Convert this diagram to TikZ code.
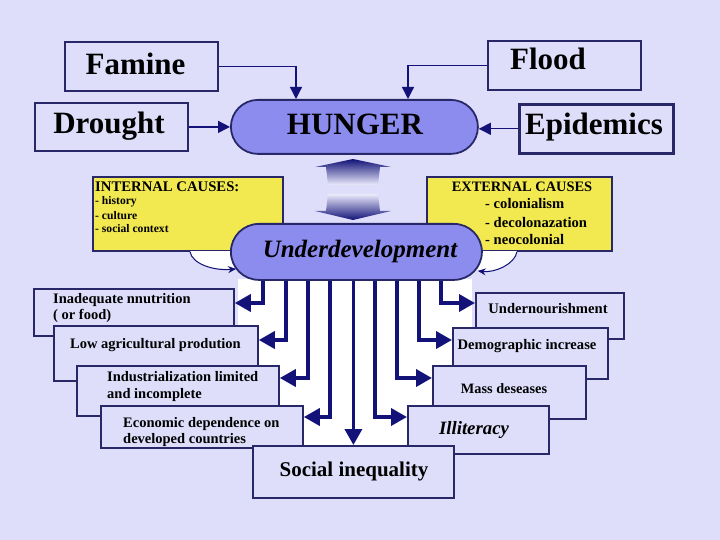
\documentclass[tikz,border=0pt]{standalone}
\usepackage{fontspec}
\setmainfont{Liberation Serif}
\usetikzlibrary{arrows.meta}
\definecolor{bg}{RGB}{222,222,250}
\definecolor{navy}{RGB}{18,18,120}
\definecolor{edge}{RGB}{40,40,105}
\definecolor{capfill}{RGB}{140,140,238}
\definecolor{yel}{RGB}{242,232,80}
\newcommand\myfs[1]{\fontsize{#1}{#1}\selectfont}
\tikzset{
 box/.style={draw=edge, line width=1.8pt, fill=bg, inner sep=0pt, anchor=north west},
 capsule/.style={draw=edge, line width=1.8pt, fill=capfill, inner sep=0pt, anchor=north west},
 ybox/.style={draw=edge, line width=1.6pt, fill=yel, inner sep=0pt, anchor=north west},
 txt/.style={inner sep=0pt, anchor=base, font=\bfseries\myfs{#1}},
 ltxt/.style={inner sep=0pt, anchor=base west, font=\bfseries\myfs{#1}},
 thinarr/.style={draw=navy, line width=1.3pt, -{Triangle[length=12pt,width=12pt]}},
 bigarr/.style={draw=navy, line width=3.6pt, -{Triangle[length=16pt,width=17pt]}},
 curvarr/.style={draw=navy, line width=1pt, -{Stealth[length=8pt,width=7pt]}},
}
\begin{document}
\begin{tikzpicture}[x=1pt,y=-1pt]
\fill[bg] (0,0) rectangle (720,540);
\useasboundingbox (0,0) rectangle (720,540);

% white area below Underdevelopment
\fill[white] (238,279) rectangle (472,447);

% top boxes
\node[box, minimum width=153pt, minimum height=49pt] (famine) at (64,41) {};
\node[txt=31] at (135.5,75) {Famine};
\node[box, minimum width=153pt, minimum height=49pt] (flood) at (487,40) {};
\node[txt=31] at (548,70) {Flood};
\node[box, minimum width=153pt, minimum height=48pt] (drought) at (34,102) {};
\node[txt=31] at (109,134) {Drought};
\node[box, line width=2.6pt, minimum width=154pt, minimum height=49pt] (epidemics) at (518,103) {};
\node[txt=31] at (594,135) {Epidemics};

% yellow boxes
\node[ybox, minimum width=190pt, minimum height=74pt] (internal) at (92,176) {};
\node[ltxt=14.7] at (95,192) {INTERNAL CAUSES:};
\node[ltxt=11.6] at (95,205) {- history};
\node[ltxt=11.6] at (95,219) {- culture};
\node[ltxt=11.6] at (95,233) {- social context};
\node[ybox, minimum width=185pt, minimum height=74pt] (external) at (426,176) {};
\node[txt=14.4] at (522,192) {EXTERNAL CAUSES};
\node[ltxt=14.6] at (485,209) {- colonialism};
\node[ltxt=14.6] at (485,227) {- decolonazation};
\node[ltxt=14.6] at (485,244) {- neocolonial};

% white fills under curved arrows
\fill[white] (190,251) .. controls (192,264) and (214,271) .. (236,268) -- (240,251) -- cycle;
\fill[white] (517,251) .. controls (515,264) and (495,273) .. (476,270) -- (470,251) -- cycle;

% capsules
\node[capsule, rounded corners=27pt, minimum width=247pt, minimum height=54pt] (hunger) at (230,99) {};
\node[txt=31] at (355,135) {HUNGER};
\node[capsule, rounded corners=28pt, minimum width=251pt, minimum height=56pt] (under) at (230,223) {};
\node[inner sep=0pt, anchor=base, font=\bfseries\itshape\myfs{25}] at (360,258) {Underdevelopment};

% curved arrows
\coordinate (inA) at ([xshift=98pt]internal.south west);
\coordinate (exA) at ([xshift=91pt]external.south west);
\draw[curvarr] (inA) .. controls (192,264) and (214,271) .. ([xshift=6pt,yshift=-17pt]under.west);
\draw[curvarr] (exA) .. controls (515,264) and (495,273) .. ([xshift=-5pt,yshift=-19pt]under.east);

% double gradient arrows
\shade[top color=navy, bottom color=bg!60!white] (353,159) -- (391,167) -- (380,167) -- (378,185) -- (328,185) -- (326,167) -- (315,167) -- cycle;
\shade[top color=bg!60!white, bottom color=navy] (328,194) -- (378,194) -- (380,211) -- (391,211) -- (353,220) -- (315,211) -- (326,211) -- cycle;

% top connectors
\draw[thinarr] (famine.east) -| ([xshift=66pt]hunger.north west);
\draw[thinarr] (flood.west) -| ([xshift=178pt]hunger.north west);
\draw[thinarr] (drought.east) -- (hunger.west |- drought.east);
\draw[thinarr] (epidemics.west) -- (hunger.east |- epidemics.west);

% lower left boxes
\node[box, minimum width=200pt, minimum height=47pt] (inad) at (33,288) {};
\node[ltxt=14.5] at (53,303) {Inadequate nnutrition};
\node[ltxt=14.5] at (53,319) {( or food)};
\node[box, minimum width=204pt, minimum height=55pt] (lowagr) at (53,325) {};
\node[ltxt=14.5] at (70,348) {Low agricultural prodution};
\node[box, minimum width=202pt, minimum height=50pt] (indus) at (76,365) {};
\node[ltxt=14.5] at (107,381) {Industrialization limited};
\node[ltxt=14.5] at (107,398) {and incomplete};
\node[box, minimum width=202pt, minimum height=42pt] (econ) at (100,405) {};
\node[ltxt=14.5] at (123,427) {Economic dependence on};
\node[ltxt=14.5] at (123,443) {developed countries};

% lower right boxes
\node[box, minimum width=148pt, minimum height=46pt] (undern) at (475,292) {};
\node[txt=14.6] at (548,313) {Undernourishment};
\node[box, minimum width=155pt, minimum height=51pt] (demog) at (452,327) {};
\node[txt=14.6] at (527,349) {Demographic increase};
\node[box, minimum width=153pt, minimum height=53pt] (mass) at (432,365) {};
\node[txt=14.3] at (504,393) {Mass deseases};
\node[box, minimum width=141pt, minimum height=48pt] (illit) at (407,405) {};
\node[inner sep=0pt, anchor=base, font=\bfseries\itshape\myfs{18.8}] at (474,434) {Illiteracy};
\node[box, minimum width=201pt, minimum height=52pt] (social) at (252,445) {};
\node[txt=21] at (354,476) {Social inequality};

% arrows from Underdevelopment
\draw[bigarr] ([xshift=33pt]under.south west) |- (inad.east |- 0,303);
\draw[bigarr] ([xshift=56pt]under.south west) |- (lowagr.east |- 0,340);
\draw[bigarr] ([xshift=78pt]under.south west) |- (indus.east |- 0,378);
\draw[bigarr] ([xshift=100pt]under.south west) |- (econ.east |- 0,417);
\draw[bigarr] (social.north |- under.south) -- (social.north);
\draw[bigarr] ([xshift=145pt]under.south west) |- (illit.west |- 0,417);
\draw[bigarr] ([xshift=167pt]under.south west) |- (mass.west |- 0,378);
\draw[bigarr] ([xshift=189pt]under.south west) |- (demog.west |- 0,340);
\draw[bigarr] ([xshift=211pt]under.south west) |- (undern.west |- 0,303);
\end{tikzpicture}
\end{document}
